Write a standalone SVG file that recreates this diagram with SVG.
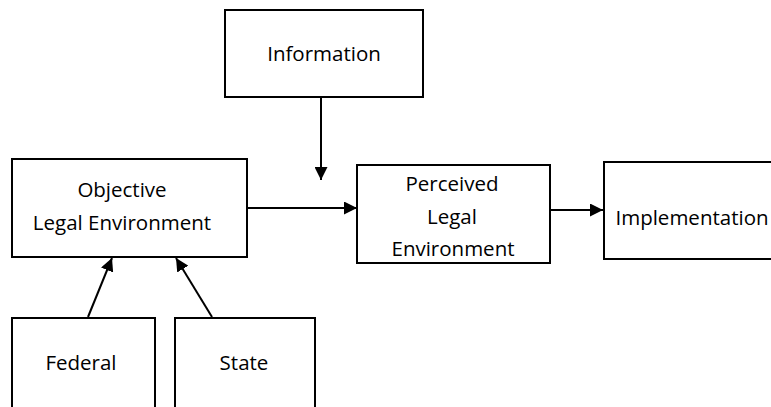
<svg xmlns="http://www.w3.org/2000/svg" width="771" height="407" viewBox="0 0 771 407">
<defs>
<style>
.box{fill:#fff;stroke:#000;stroke-width:2}
.t{font-family:"Open Sans","Noto Sans",sans-serif;font-size:20.5px;fill:#000;text-anchor:middle}
.c{stroke:#000;stroke-width:2;fill:none;marker-end:url(#ah)}
</style>
<marker id="ah" viewBox="0 0 10 10" refX="10" refY="5" markerWidth="6.5" markerHeight="6.5" markerUnits="strokeWidth" orient="auto">
<path d="M0,0 L10,5 L0,10 z" fill="#000"/>
</marker>
</defs>
<rect width="771" height="407" fill="#fff"/>
<g id="information"><rect class="box" x="225" y="10" width="198" height="87"/><text class="t" x="324" y="61">Information</text></g>
<g id="objective"><rect class="box" x="12" y="159" width="235" height="98"/><text class="t" x="122" y="197">Objective</text><text class="t" x="122" y="230">Legal Environment</text></g>
<g id="perceived"><rect class="box" x="357" y="165" width="193" height="98"/><text class="t" x="452" y="191">Perceived</text><text class="t" x="452" y="224">Legal</text><text class="t" x="453" y="256">Environment</text></g>
<g id="implementation"><rect class="box" x="604" y="162" width="180" height="97"/><text class="t" x="692" y="225">Implementation</text></g>
<g id="federal"><rect class="box" x="12" y="318" width="143" height="100"/><text class="t" x="81" y="370">Federal</text></g>
<g id="state"><rect class="box" x="175" y="318" width="140" height="100"/><text class="t" x="244" y="370">State</text></g>
<g id="connectors">
<line class="c" x1="321" y1="97" x2="321" y2="180"/>
<line class="c" x1="247" y1="208" x2="357" y2="208"/>
<line class="c" x1="550" y1="210" x2="603" y2="210"/>
<line class="c" x1="88" y1="317" x2="112" y2="258"/>
<line class="c" x1="212" y1="317" x2="176" y2="258"/>
</g>
</svg>
